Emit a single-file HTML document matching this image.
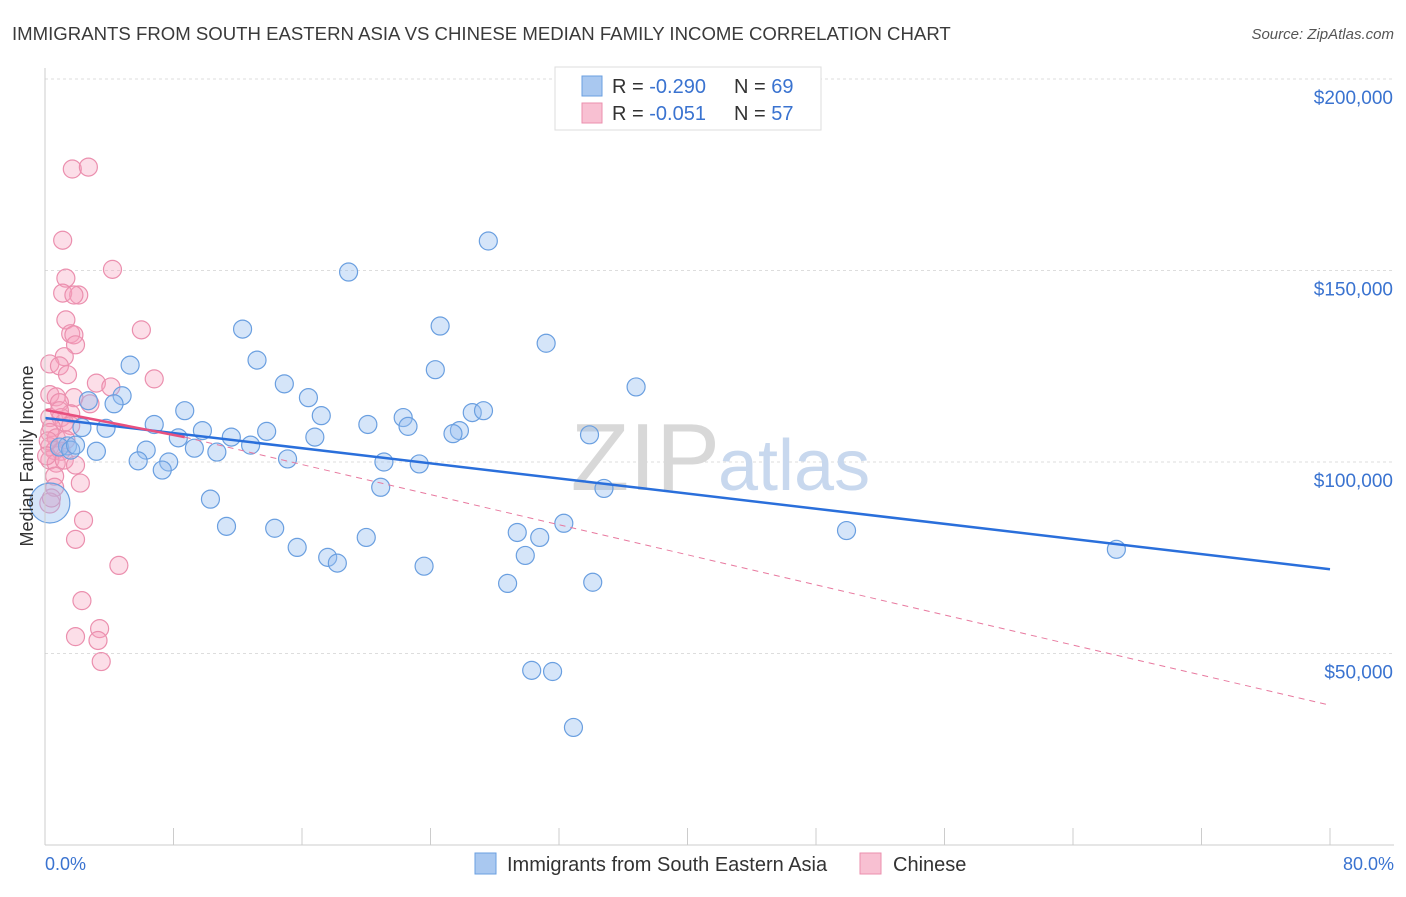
<!DOCTYPE html>
<html><head><meta charset="utf-8"><style>
body{margin:0;background:#fff;font-family:"Liberation Sans",sans-serif}
svg text{font-family:"Liberation Sans",sans-serif}
</style></head><body>
<svg id="chart" width="1406" height="892" xmlns="http://www.w3.org/2000/svg">
<text x="12" y="40" font-size="18.6" fill="#3a3a3a">IMMIGRANTS FROM SOUTH EASTERN ASIA VS CHINESE MEDIAN FAMILY INCOME CORRELATION CHART</text>
<text x="1394" y="39" font-size="15" fill="#555" font-style="italic" text-anchor="end">Source: ZipAtlas.com</text>
<g id="grid"></g>
<text x="720" y="490" font-size="96" fill="#d8d8d8" text-anchor="end" font-family="Liberation Serif">ZIP</text>
<text x="718" y="490" font-size="72" fill="#c8d8ee">atlas</text>
<g id="marks"></g>
<line x1="45" y1="68" x2="45" y2="845" stroke="#ccc"/>
<line x1="45" y1="845" x2="1394" y2="845" stroke="#ccc"/>
<text x="33" y="456" font-size="18" fill="#333" text-anchor="middle" transform="rotate(-90 33 456)">Median Family Income</text>
<text x="45" y="870" font-size="18" fill="#3a73d0">0.0%</text>
<text x="1394" y="870" font-size="18" fill="#3a73d0" text-anchor="end">80.0%</text>
<g>
<rect x="555" y="67" width="266" height="63" fill="#fff" stroke="#ddd"/>
<rect x="582" y="76" width="20" height="20" fill="#a9c8f0" stroke="#6a9fe0"/>
<rect x="582" y="103" width="20" height="20" fill="#f8c0d2" stroke="#eb8fae"/>
<text x="612" y="93" font-size="20" fill="#333">R = <tspan fill="#3a73d0">-0.290</tspan><tspan x="734">N = </tspan><tspan fill="#3a73d0">69</tspan></text>
<text x="612" y="120" font-size="20" fill="#333">R = <tspan fill="#3a73d0"> -0.051</tspan><tspan x="734">N = </tspan><tspan fill="#3a73d0">57</tspan></text>
</g>
<g>
<rect x="475" y="853" width="21" height="21" fill="#a9c8f0" stroke="#6a9fe0"/>
<text x="507" y="871" font-size="20" fill="#333">Immigrants from South Eastern Asia</text>
<rect x="860" y="853" width="21" height="21" fill="#f8c0d2" stroke="#eb8fae"/>
<text x="893" y="871" font-size="20" fill="#333">Chinese</text>
</g>
</svg>
<script>
const yTicks=[50000,100000,150000,200000];
const yTickLabels=["$50,000","$100,000","$150,000","$200,000"];
const xTicks=[0,8,16,24,32,40,48,56,64,72,80];
const blueX=[27.6,18.9,24.6,12.3,31.2,5.3,13.2,24.3,36.8,14.9,4.8,2.7,4.3,16.4,8.7,26.6,27.3,17.2,22.3,6.8,20.1,22.6,2.3,3.8,9.8,13.8,25.8,25.4,33.9,16.8,8.3,11.6,1.4,6.3,9.3,12.8,3.2,10.7,15.1,5.8,7.7,21.1,23.3,7.3,20.9,34.8,10.3,32.3,11.3,14.3,29.4,30.8,49.9,20.0,15.7,17.6,29.9,66.7,18.2,23.6,28.8,34.1,30.3,31.6,32.9,0.3,0.9,1.6,1.9];
const blueY=[157700,149600,135500,134700,131000,125300,126600,124100,119600,120400,117300,116000,115200,116800,113400,112900,113400,112100,111600,109800,109800,109300,109000,108800,108200,108000,108200,107400,107100,106500,106300,106500,104200,103100,103600,104400,102800,102600,100800,100300,100000,100000,99500,97900,93400,93100,90300,84000,83200,82700,81600,80300,82100,80300,77700,75100,75600,77200,73600,72800,68300,68600,45600,45300,30700,89300,103900,103100,104400];
const pinkX=[1.7,2.7,1.1,4.2,1.3,1.1,2.1,1.8,1.3,6.0,1.6,1.8,1.9,1.2,0.3,0.9,1.4,6.8,3.2,4.1,0.3,0.7,1.8,0.9,2.8,1.6,0.3,1.0,1.2,0.4,1.6,0.3,0.7,1.3,0.3,0.6,1.0,0.3,0.7,1.2,1.9,0.6,2.2,0.6,2.4,1.9,4.6,2.3,3.4,1.9,3.3,3.5,0.3,0.2,0.1,0.9,0.4];
const pinkY=[176500,177000,157900,150300,148000,144100,143600,143600,137100,134500,133500,133200,130600,127500,125600,125100,122800,121700,120600,119600,117600,117000,116800,115500,115200,112600,111600,111600,110300,109000,109500,107700,106300,105800,104000,103000,102800,100500,99700,100500,99200,96300,94500,93400,84800,79800,73000,63800,56500,54400,53400,47900,89300,105500,101600,113400,90600];
const W0=45,W1=1330,Y100=462,PX50=191.5;
const xs=v=>W0+(v/80)*(W1-W0);
const ys=v=>Y100-(v-100000)*PX50/50000;
const NS="http://www.w3.org/2000/svg";
function mk(t,a,p){const e=document.createElementNS(NS,t);for(const k in a)e.setAttribute(k,a[k]);p.appendChild(e);return e;}
const grid=document.getElementById('grid'),marks=document.getElementById('marks');
yTicks.forEach((v,i)=>{
 const l=mk('line',{x1:45,x2:1394,y1:ys(v),y2:ys(v),stroke:'#ddd','stroke-dasharray':'3,3'},grid);
 
 
 const t=mk('text',{x:1393,y:ys(v)+25,'font-size':19,fill:'#3a73d0','text-anchor':'end'},grid);
 t.textContent=yTickLabels[i];
 
 
});
xTicks.forEach(v=>{
 const l=mk('line',{x1:xs(v),x2:xs(v),y1:828,y2:845,stroke:'#ccc'},grid);
 
 
});
pinkX.forEach((x,i)=>{
 const big=(i===52);
 const c=mk('circle',{cx:xs(x),cy:ys(pinkY[i]),r:big?10:9,fill:'rgba(245,160,190,0.35)',stroke:'#eb8fae','stroke-width':1.2},marks);
 
 
});
blueX.forEach((x,i)=>{
 const big=(i===65);
 const c=mk('circle',{cx:xs(x),cy:ys(blueY[i]),r:big?20:9,fill:'rgba(150,190,240,0.4)',stroke:'#6a9fe0','stroke-width':1.2},marks);
 
 
});
const bt=mk('line',{x1:xs(0),y1:ys(111500),x2:xs(80),y2:ys(72000),stroke:'#2a6fdb','stroke-width':2.5},marks);


const pt=mk('line',{x1:xs(0),y1:ys(113600),x2:xs(8.7),y2:ys(106500),stroke:'#e8507f','stroke-width':2.5},marks);


const pd=mk('line',{x1:xs(8.7),y1:ys(106500),x2:xs(80),y2:ys(36500),stroke:'#e8799f','stroke-width':1,'stroke-dasharray':'6,5'},marks);


</script>
</body></html>
